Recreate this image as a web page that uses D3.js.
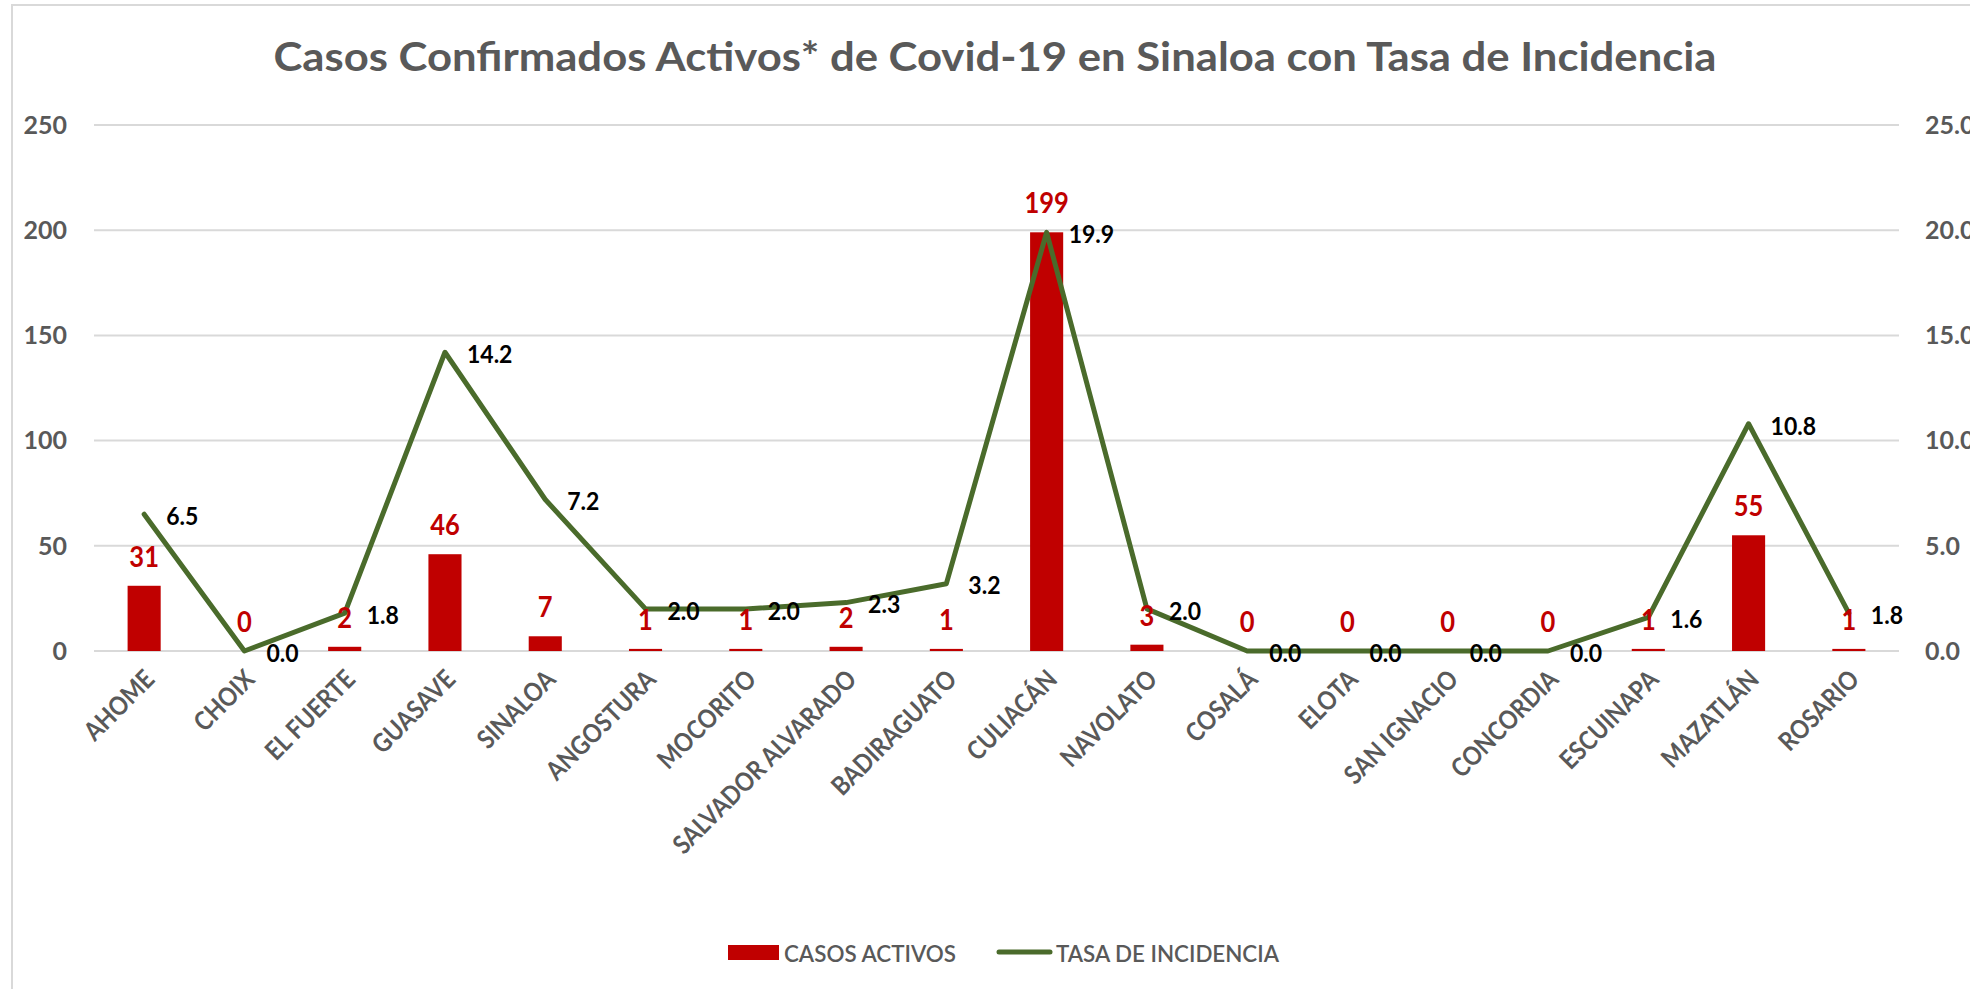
<!DOCTYPE html>
<html>
<head>
<meta charset="utf-8">
<script src="https://cdn.jsdelivr.net/npm/d3@7"></script>
<style>
  html, body { margin: 0; padding: 0; background: #fff; }
  svg { display: block; font-family: Lato, 'Open Sans', sans-serif; }
</style>
</head>
<body>
<div id="chart"></div>
<script>
// data
const municipios = ['AHOME', 'CHOIX', 'EL FUERTE', 'GUASAVE', 'SINALOA', 'ANGOSTURA', 'MOCORITO',
  'SALVADOR ALVARADO', 'BADIRAGUATO', 'CULIACÁN', 'NAVOLATO', 'COSALÁ', 'ELOTA', 'SAN IGNACIO',
  'CONCORDIA', 'ESCUINAPA', 'MAZATLÁN', 'ROSARIO'];
const casosActivos = [31, 0, 2, 46, 7, 1, 1, 2, 1, 199, 3, 0, 0, 0, 0, 1, 55, 1];
const tasaIncidencia = [6.5, 0.0, 1.8, 14.2, 7.2, 2.0, 2.0, 2.3, 3.2, 19.9, 2.0, 0.0, 0.0, 0.0, 0.0, 1.6, 10.8, 1.8];
const leftTicks = [0, 50, 100, 150, 200, 250];
const rightTicks = [0, 5, 10, 15, 20, 25];
const titulo = 'Casos Confirmados Activos* de Covid-19 en Sinaloa con Tasa de Incidencia';
const serieNames = ['CASOS ACTIVOS', 'TASA DE INCIDENCIA'];

const props = {
  width: 1970,
  height: 989,
  plot: { left: 94, right: 1899, top: 125, bottom: 651 },
  barColor: '#c00000',
  lineColor: '#4a6b2b',
  gridColor: '#d9d9d9',
  textGray: '#595959',
};

const data = municipios.map((m, i) => ({ name: m, casos: casosActivos[i], tasa: tasaIncidencia[i] }));
const { plot } = props;

const svg = d3.select('#chart')
  .append('svg')
  .attr('width', props.width)
  .attr('height', props.height);

// squeeze text to a narrower, Calibri-like width
function condense(sel, factor) {
  sel.each(function() {
    const len = this.getComputedTextLength();
    d3.select(this)
      .attr('textLength', len * factor)
      .attr('lengthAdjust', 'spacingAndGlyphs');
  });
}

// chart area border
svg.append('rect')
  .attr('x', 12).attr('y', 5)
  .attr('width', props.width).attr('height', props.height)
  .attr('fill', 'none')
  .attr('stroke', props.gridColor)
  .attr('stroke-width', 2);

const x = d3.scaleBand()
  .domain(municipios)
  .range([plot.left, plot.right])
  .padding(0);

const yLeft = d3.scaleLinear().domain([0, 250]).range([plot.bottom, plot.top]);
const yRight = d3.scaleLinear().domain([0, 25]).range([plot.bottom, plot.top]);

const cx = d => x(d.name) + x.bandwidth() / 2;
const barW = x.bandwidth() * 0.33;

// title
svg.append('text')
  .attr('x', 995)
  .attr('y', 71)
  .attr('text-anchor', 'middle')
  .attr('fill', props.textGray)
  .style('font-size', '41px')
  .style('font-weight', 700)
  .attr('textLength', 1443)
  .attr('lengthAdjust', 'spacingAndGlyphs')
  .text(titulo);

// gridlines
svg.append('g').attr('class', 'grid')
  .selectAll('line')
  .data(leftTicks)
  .join('line')
  .attr('x1', plot.left).attr('x2', plot.right)
  .attr('y1', d => yLeft(d)).attr('y2', d => yLeft(d))
  .attr('stroke', props.gridColor)
  .attr('stroke-width', 2);

// left axis
svg.append('g').attr('class', 'axis y-left')
  .selectAll('text')
  .data(leftTicks)
  .join('text')
  .attr('x', 67)
  .attr('y', d => yLeft(d))
  .attr('dy', '0.35em')
  .attr('text-anchor', 'end')
  .attr('fill', props.textGray)
  .style('font-size', '25px')
  .style('font-weight', 700)
  .text(d => d);

// right axis (cut at the edge, as in the original)
svg.append('g').attr('class', 'axis y-right')
  .selectAll('text')
  .data(rightTicks)
  .join('text')
  .attr('x', 1925)
  .attr('y', d => yRight(d))
  .attr('dy', '0.35em')
  .attr('fill', props.textGray)
  .style('font-size', '25px')
  .style('font-weight', 700)
  .text(d => d3.format('.1f')(d));

// x labels
svg.append('g').attr('class', 'axis x')
  .selectAll('text')
  .data(municipios)
  .join('text')
  .attr('transform', d => `translate(${x(d) + x.bandwidth() / 2 + 12},${plot.bottom + 30}) rotate(-45)`)
  .attr('text-anchor', 'end')
  .attr('fill', props.textGray)
  .style('font-size', '26px')
  .style('font-weight', 700)
  .text(d => d)
  .call(condense, 0.88);

// bars
svg.append('g').attr('class', 'bars')
  .selectAll('rect')
  .data(data)
  .join('rect')
  .attr('x', d => cx(d) - barW / 2)
  .attr('width', barW)
  .attr('y', d => yLeft(d.casos))
  .attr('height', d => yLeft(0) - yLeft(d.casos))
  .attr('fill', props.barColor);

// line
const line = d3.line()
  .x(cx)
  .y(d => yRight(d.tasa));

svg.append('path')
  .datum(data)
  .attr('d', line)
  .attr('fill', 'none')
  .attr('stroke', props.lineColor)
  .attr('stroke-width', 5)
  .attr('stroke-linejoin', 'round')
  .attr('stroke-linecap', 'round');

// bar labels
svg.append('g').attr('class', 'bar-labels')
  .selectAll('text')
  .data(data)
  .join('text')
  .attr('x', cx)
  .attr('y', d => yLeft(d.casos) - 19)
  .attr('text-anchor', 'middle')
  .attr('fill', props.barColor)
  .style('font-size', '29px')
  .style('font-weight', 700)
  .text(d => d.casos)
  .call(condense, 0.88);

// line labels
svg.append('g').attr('class', 'line-labels')
  .selectAll('text')
  .data(data)
  .join('text')
  .attr('x', d => cx(d) + 22)
  .attr('y', d => yRight(d.tasa) + 2)
  .attr('dy', '0.35em')
  .attr('fill', '#000')
  .style('font-size', '25px')
  .style('font-weight', 700)
  .text(d => d3.format('.1f')(d.tasa))
  .call(condense, 0.92);

// legend
const legend = svg.append('g').attr('class', 'legend');
legend.append('rect')
  .attr('x', 728).attr('y', 945)
  .attr('width', 51).attr('height', 15)
  .attr('fill', props.barColor);
legend.append('text')
  .attr('x', 784).attr('y', 962)
  .attr('fill', props.textGray)
  .style('font-size', '23px')
  .style('font-weight', 600)
  .attr('textLength', 172)
  .attr('lengthAdjust', 'spacingAndGlyphs')
  .text(serieNames[0]);
legend.append('line')
  .attr('x1', 999).attr('x2', 1050)
  .attr('y1', 952).attr('y2', 952)
  .attr('stroke', props.lineColor)
  .attr('stroke-width', 5)
  .attr('stroke-linecap', 'round');
legend.append('text')
  .attr('x', 1056).attr('y', 962)
  .attr('fill', props.textGray)
  .style('font-size', '23px')
  .style('font-weight', 600)
  .attr('textLength', 223)
  .attr('lengthAdjust', 'spacingAndGlyphs')
  .text(serieNames[1]);
</script>
</body>
</html>
